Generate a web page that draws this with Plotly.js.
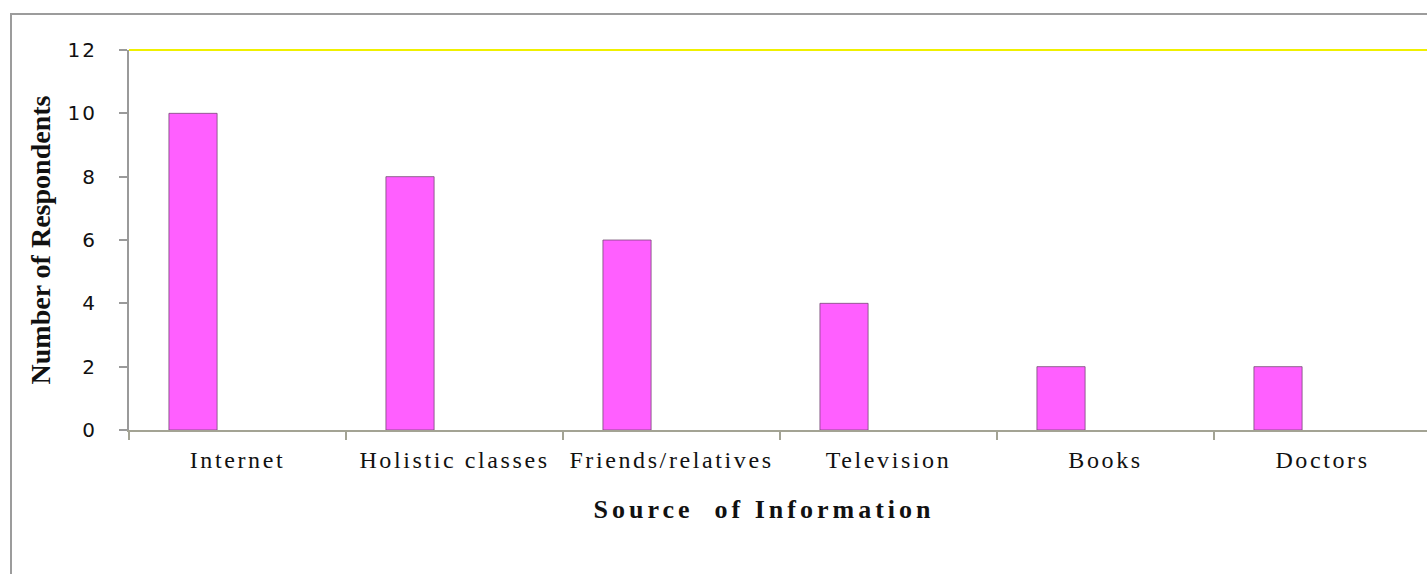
<!DOCTYPE html>
<html>
<head>
<meta charset="utf-8">
<script src="https://cdn.plot.ly/plotly-3.0.1.min.js"></script>
<style>
html, body { margin: 0; padding: 0; background: #fff; overflow: hidden; }
#chart { width: 1440px; height: 574px; }
.xtick text { letter-spacing: 2.6px; }
.ytick text { letter-spacing: 2px; }
.g-xtitle text { letter-spacing: 4px; }
</style>
</head>
<body>
<div id="chart"></div>
<script>
const categories = ["Internet", "Holistic classes", "Friends/relatives", "Television", "Books", "Doctors"];
const respondents = [10, 8, 6, 4, 2, 2];
const yTicks = [0, 2, 4, 6, 8, 10, 12];

const W = 1440, H = 574;
const L = 129, R = 9, T = 50, B = 144;
const pw = W - L - R, ph = H - T - B;

const trace = {
  type: "bar",
  x: categories,
  y: respondents,
  width: 0.222,
  offset: -0.316,
  marker: { color: "#ff5fff", line: { color: "rgba(110,70,110,0.75)", width: 1 } },
  hoverinfo: "x+y"
};

const layout = {
  width: W, height: H,
  margin: { l: L, r: R, t: T, b: B, pad: 0 },
  paper_bgcolor: "#ffffff",
  plot_bgcolor: "#ffffff",
  showlegend: false,
  xaxis: {
    type: "category",
    range: [-0.5, 5.5],
    showgrid: false,
    zeroline: false,
    showline: true,
    linecolor: "#a3a394",
    linewidth: 2,
    ticks: "outside",
    tickson: "boundaries",
    ticklen: 8,
    tickwidth: 2,
    tickcolor: "#a3a394",
    ticklabelstandoff: 7,
    tickfont: { family: "Liberation Serif, Times New Roman, serif", size: 24, color: "#111" },
    title: { text: "Source  of Information", standoff: 28,
      font: { family: "Liberation Serif, Times New Roman, serif", size: 26, color: "#111", weight: "bold" } },
    automargin: false
  },
  yaxis: {
    range: [0, 12],
    tickvals: yTicks,
    showgrid: false,
    zeroline: false,
    showline: true,
    linecolor: "#9a9a9a",
    linewidth: 2,
    ticks: "outside",
    ticklen: 8,
    tickwidth: 2,
    tickcolor: "#9a9a9a",
    ticklabelstandoff: 18,
    tickfont: { family: "DejaVu Sans, Verdana, sans-serif", size: 20, color: "#111" },
    title: { text: "Number of Respondents",
      font: { family: "Liberation Serif, Times New Roman, serif", size: 28, color: "#111", weight: "bold" } },
    automargin: false
  },
  shapes: [
    { type: "line", xref: "paper", yref: "paper", x0: 0, x1: 1, y0: 1, y1: 1,
      line: { color: "#f0f000", width: 2 } },
    { type: "rect", xref: "paper", yref: "paper",
      x0: (11 - L) / pw, x1: 1.2, y0: -1, y1: (H - B - 14) / ph,
      line: { color: "#9c9c9c", width: 2 }, fillcolor: "rgba(0,0,0,0)", layer: "below" }
  ]
};

Plotly.newPlot("chart", [trace], layout, { displayModeBar: false, staticPlot: true }).then(function (gd) {
  const yt = gd.querySelector(".g-ytitle");
  if (yt) yt.setAttribute("transform", "translate(-12,0)");
  const xt = gd.querySelector(".g-xtitle");
  if (xt) xt.setAttribute("transform", "translate(-16,0)");
});
</script>
</body>
</html>
